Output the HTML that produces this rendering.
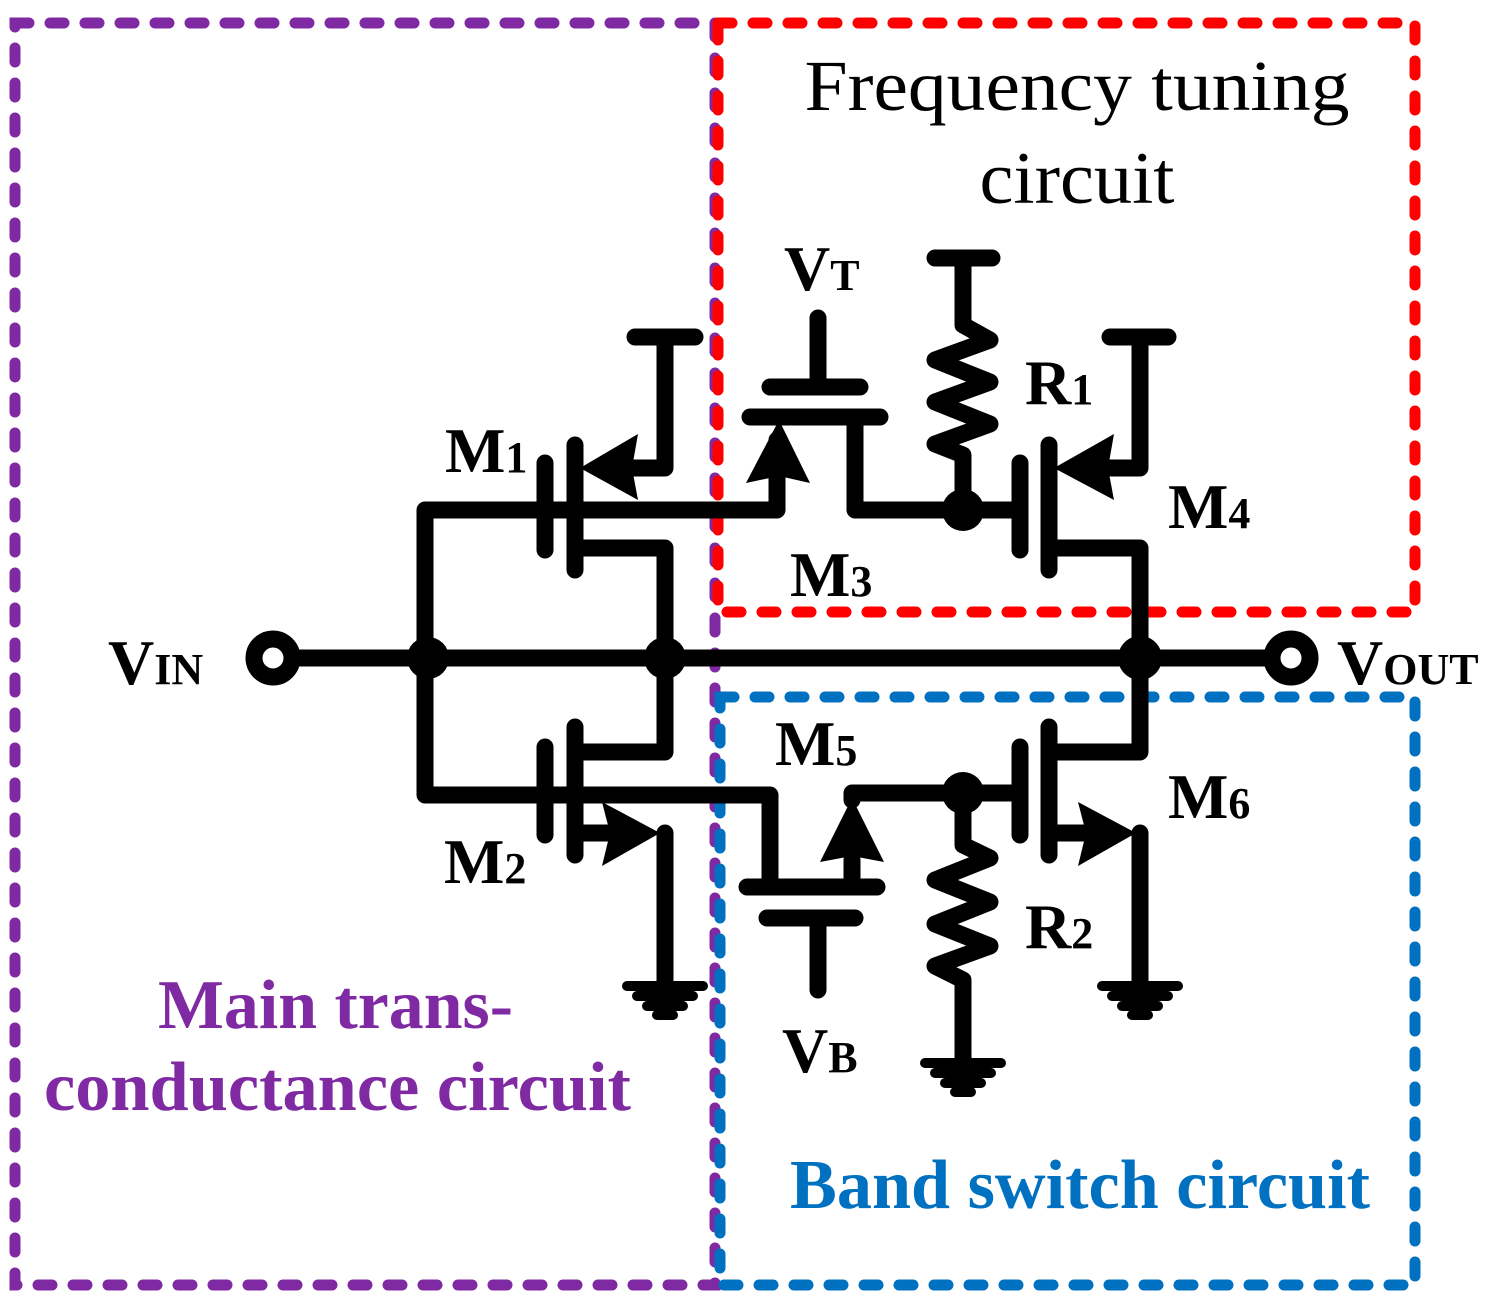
<!DOCTYPE html>
<html><head><meta charset="utf-8"><style>html,body{margin:0;padding:0;background:#fff}svg{display:block}</style></head>
<body>
<svg width="1497" height="1314" viewBox="0 0 1497 1314" xmlns="http://www.w3.org/2000/svg">
<g fill="none" stroke-width="11" stroke-linecap="round" stroke-dasharray="14 21">
<rect x="15" y="23" width="700" height="1262" stroke="#7f2aa2"/>
<rect x="718" y="23" width="697" height="589" stroke="#ff0000"/>
<rect x="720" y="697" width="695" height="588" stroke="#0070c0"/>
</g>
<g stroke="#000" stroke-width="17" fill="none" stroke-linecap="round" stroke-linejoin="round">
<line x1="290" y1="658" x2="1272" y2="658"/>
<polyline points="425,658 425,510 777,510 777,440"/>
<polyline points="425,658 425,795 770,795 770,887"/>
<line x1="545" y1="463" x2="545" y2="550"/>
<line x1="575" y1="445" x2="575" y2="570"/>
<polyline points="600,468 665,468 665,337"/>
<line x1="635" y1="337" x2="695" y2="337"/>
<polyline points="575,548 665,548 665,658"/>
<line x1="750" y1="417" x2="880" y2="417"/>
<line x1="770" y1="387" x2="860" y2="387"/>
<line x1="818" y1="318" x2="818" y2="387"/>
<polyline points="855,420 855,510 963,510"/>
<line x1="935" y1="258" x2="992" y2="258"/>
<polyline points="963,258 963,325 990,340 935,360 990,382 935,402 990,424 935,444 963,455 963,510"/>
<line x1="963" y1="510" x2="1020" y2="510"/>
<line x1="1020" y1="463" x2="1020" y2="550"/>
<line x1="1049" y1="445" x2="1049" y2="570"/>
<polyline points="1075,468 1140,468 1140,337"/>
<line x1="1110" y1="337" x2="1168" y2="337"/>
<polyline points="1049,548 1140,548 1140,658"/>
<line x1="545" y1="747" x2="545" y2="835"/>
<line x1="575" y1="727" x2="575" y2="855"/>
<polyline points="575,752 665,752 665,658"/>
<polyline points="575,833 610,833"/>
<polyline points="665,833 665,985"/>
<line x1="747" y1="887" x2="877" y2="887"/>
<line x1="767" y1="918" x2="855" y2="918"/>
<line x1="818" y1="918" x2="818" y2="990"/>
<polyline points="852,887 852,860"/>
<polyline points="852,800 852,793 1020,793"/>
<polyline points="963,793 963,845 990,858 935,880 990,902 935,924 990,946 935,966 963,980 963,1062"/>
<line x1="1020" y1="747" x2="1020" y2="835"/>
<line x1="1049" y1="727" x2="1049" y2="855"/>
<polyline points="1049,752 1140,752 1140,658"/>
<polyline points="1049,833 1085,833"/>
<polyline points="1140,833 1140,985"/>
</g>
<g stroke="#000" stroke-width="10" stroke-linecap="round">
<line x1="627" y1="986" x2="703" y2="986"/><line x1="637" y1="996" x2="693" y2="996"/><line x1="647" y1="1006" x2="683" y2="1006"/><line x1="657" y1="1015" x2="673" y2="1015"/>
<line x1="1102" y1="986" x2="1178" y2="986"/><line x1="1112" y1="996" x2="1168" y2="996"/><line x1="1122" y1="1006" x2="1158" y2="1006"/><line x1="1132" y1="1015" x2="1148" y2="1015"/>
<line x1="925" y1="1063" x2="1001" y2="1063"/><line x1="935" y1="1073" x2="991" y2="1073"/><line x1="945" y1="1083" x2="981" y2="1083"/><line x1="955" y1="1092" x2="971" y2="1092"/>
</g>
<g fill="#000">
<polygon points="580,468 638,434 632,468 638,500"/>
<polygon points="1054,468 1114,434 1108,468 1114,500"/>
<polygon points="779,420 746,483 779,476 810,483"/>
<polygon points="660,833 602,802 610,833 602,866"/>
<polygon points="1136,833 1078,802 1086,833 1078,866"/>
<polygon points="852,798 820,862 852,856 884,862"/>
<circle cx="428" cy="658" r="21"/><circle cx="665" cy="658" r="21"/><circle cx="1140" cy="658" r="22"/>
<circle cx="963" cy="510" r="21"/><circle cx="963" cy="793" r="21"/>
</g>
<g fill="#fff" stroke="#000" stroke-width="17">
<circle cx="273" cy="658" r="19"/><circle cx="1291" cy="658" r="19"/>
</g>
<g font-family="'Liberation Serif',serif" fill="#000">
<text x="1077" y="110" font-size="72" text-anchor="middle" textLength="545" lengthAdjust="spacingAndGlyphs">Frequency tuning</text>
<text x="1077" y="203" font-size="74" text-anchor="middle" textLength="195" lengthAdjust="spacingAndGlyphs">circuit</text>
<g font-weight="bold" font-size="64">
<text x="445" y="472">M<tspan font-size="44">1</tspan></text>
<text x="1025" y="404">R<tspan font-size="44">1</tspan></text>
<text x="1168" y="528">M<tspan font-size="44">4</tspan></text>
<text x="790" y="596">M<tspan font-size="44">3</tspan></text>
<text x="784" y="290">V<tspan font-size="44">T</tspan></text>
<text x="108" y="684">V<tspan font-size="44">IN</tspan></text>
<text x="1337" y="684">V<tspan font-size="44">OUT</tspan></text>
<text x="775" y="765">M<tspan font-size="44">5</tspan></text>
<text x="1168" y="818">M<tspan font-size="44">6</tspan></text>
<text x="444" y="883">M<tspan font-size="44">2</tspan></text>
<text x="1025" y="948">R<tspan font-size="44">2</tspan></text>
<text x="782" y="1072">V<tspan font-size="44">B</tspan></text>
</g>
<g font-weight="bold" font-size="70">
<text x="158" y="1028" fill="#7f2aa2" textLength="355" lengthAdjust="spacingAndGlyphs">Main trans-</text>
<text x="44" y="1110" fill="#7f2aa2" textLength="587" lengthAdjust="spacingAndGlyphs">conductance circuit</text>
<text x="790" y="1208" fill="#0070c0" textLength="580" lengthAdjust="spacingAndGlyphs">Band switch circuit</text>
</g>
</g>
</svg>
</body></html>
